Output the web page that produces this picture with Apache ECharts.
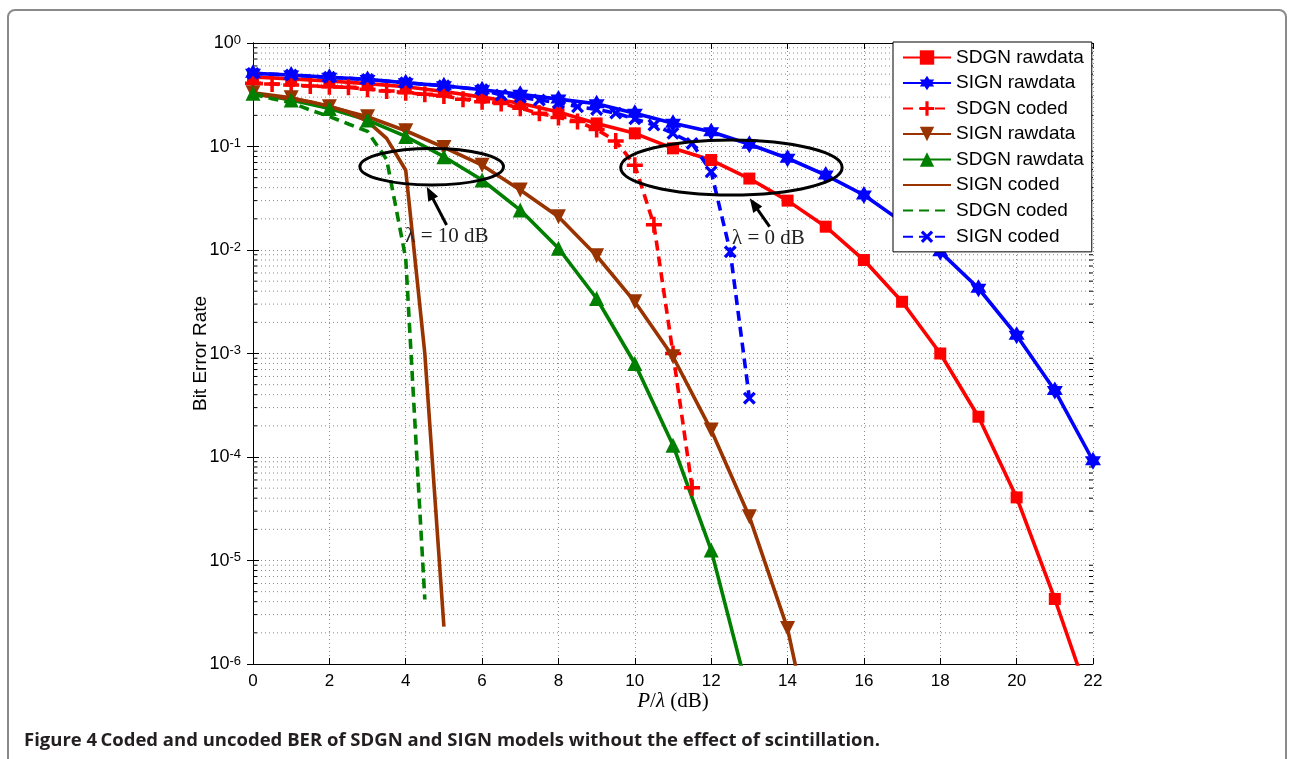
<!DOCTYPE html>
<html><head><meta charset="utf-8">
<script src="https://cdn.jsdelivr.net/npm/echarts@6/dist/echarts.min.js"></script>
<style>html,body{margin:0;padding:0;background:#fff;}#c{width:1294px;height:759px;}</style>
</head><body><div id="c"></div>
<script>
// ---------- data ----------
const xTickLabels = [0,2,4,6,8,10,12,14,16,18,20,22];
const xInt = [0,1,2,3,4,5,6,7,8,9,10,11,12,13,14,15,16,17,18,19,20,21,22];

const sdgnRawX = xInt;
const sdgnRawY = [0.47,0.45,0.43,0.405,0.378,0.34,0.30,0.262,0.215,0.167,0.134,0.096,0.074,0.049,0.030,0.0168,0.0080,0.00316,0.0010,0.000245,0.0000407,0.00000425,0.00000036];

const signRawX = xInt;
const signRawY = [0.509,0.49,0.466,0.445,0.413,0.386,0.354,0.319,0.287,0.259,0.209,0.168,0.139,0.105,0.077,0.053,0.034,0.0187,0.0096,0.00427,0.0015,0.00044,0.000092];

const sdgnCodedX = [0,0.5,1,1.5,2,2.5,3,3.5,4,4.5,5,5.5,6,6.5,7,7.5,8,8.5,9,9.5,10,10.5,11,11.5];
const sdgnCodedY = [0.408,0.402,0.393,0.384,0.378,0.373,0.357,0.344,0.331,0.319,0.308,0.286,0.271,0.261,0.234,0.209,0.191,0.174,0.146,0.113,0.066,0.0175,0.0010,0.0000505];

const signRaw10X = [0,1,2,3,4,5,6,7,8,9,10,11,12,13,14,15];
const signRaw10Y = [0.33,0.295,0.242,0.194,0.142,0.098,0.066,0.038,0.021,0.0088,0.00316,0.00093,0.000182,0.0000265,0.0000022,0.000000042];

const sdgnRaw10X = [0,1,2,3,4,5,6,7,8,9,10,11,12,13];
const sdgnRaw10Y = [0.327,0.281,0.233,0.18,0.125,0.0797,0.0475,0.0243,0.0104,0.0034,0.0008,0.00013,0.0000126,0.00000047];

const signCoded10X = [0,0.5,1,1.5,2,2.5,3,3.5,4,4.5,5];
const signCoded10Y = [0.32,0.305,0.29,0.27,0.245,0.215,0.175,0.12,0.059,0.0010,0.0000023];

const sdgnCoded10X = [0,0.5,1,1.5,2,2.5,3,3.5,4,4.5];
const sdgnCoded10Y = [0.32,0.29,0.265,0.225,0.195,0.165,0.14,0.075,0.0083,0.0000042];

const signCodedX = [0,1,2,3,4,5,6,6.5,7,7.5,8,8.5,9,9.5,10,10.5,11,11.5,12,12.5,13];
const signCodedY = [0.509,0.49,0.466,0.445,0.413,0.386,0.354,0.314,0.30,0.281,0.265,0.242,0.228,0.21,0.185,0.161,0.134,0.107,0.057,0.0096,0.00037];

const legendNames = ['SDGN rawdata','SIGN rawdata','SDGN coded','SIGN rawdata ','SDGN rawdata ','SIGN coded','SDGN coded ','SIGN coded '];

// minor log grid values
const minorVals = [];
for (let e = -6; e <= -1; e++) for (let m = 2; m <= 9; m++) minorVals.push(m * Math.pow(10, e));

// annotations, in data units
const ellipses = [
  {x: 4.68, y: 0.0638, rx: 1.88, ryDec: 0.177},
  {x: 12.53, y: 0.0627, rx: 2.90, ryDec: 0.266}
];
const arrows = [
  {tail: [5.07, 0.01745], tip: [4.55, 0.0409]},
  {tail: [13.53, 0.0168], tip: [13.01, 0.0316]}
];
const notes = [
  {x: 5.08, y: 0.0136, text: 'λ = 10 dB'},
  {x: 13.5, y: 0.0128, text: 'λ = 0 dB'}
];

// ---------- helpers ----------
const zip = (xs, ys) => xs.map((x, i) => [x, ys[i]]);
const HEX = 'path://M8.66,0L11.547,5L17.32,5L14.434,10L17.32,15L11.547,15L8.66,20L5.773,15L0,15L2.886,10L0,5L5.773,5Z';
const PLUS = 'path://M6,0h3.4v6h6v3.4h-6v6h-3.4v-6h-6v-3.4h6z';
const RED = '#ff0000', BLUE = '#0000ff', BROWN = '#993300', GREEN = '#007f00';
const LW = 3.6;
const DASH = [10, 6];

function lineSeries(name, data, color, opts) {
  return {
    type: 'line', name: name, data: data, color: color,
    lineStyle: {color: color, width: LW, type: opts.dash ? DASH : 'solid'},
    itemStyle: {color: color},
    symbol: opts.symbol || 'none', symbolSize: opts.size || 12,
    symbolRotate: opts.rotate || 0,
    showSymbol: !!opts.symbol, clip: true, silent: true, z: 3
  };
}

const chart = echarts.init(document.getElementById('c'), null, {renderer: 'canvas'});

const axisLineStyle = {show: true, lineStyle: {color: '#000', width: 1}};
const gridLine = {show: true, lineStyle: {color: '#8a8a8a', width: 1, type: [1, 3]}};

const option = {
  animation: false,
  backgroundColor: '#fff',
  grid: {left: 253, right: 201, top: 43, bottom: 95, containLabel: false},
  xAxis: [
    {type: 'value', min: 0, max: 22, interval: 2, position: 'bottom',
     axisLine: axisLineStyle, axisTick: {show: true, inside: true, length: 6, lineStyle: {color: '#000'}},
     axisLabel: {color: '#000', fontSize: 17, fontFamily: 'Liberation Sans', margin: 9,
                 formatter: v => (xTickLabels.indexOf(v) >= 0 ? String(v) : '')},
     splitLine: gridLine,
     name: '{i|P}{r|/}{i|λ}{r| (dB)}', nameLocation: 'middle', nameGap: 27, nameMoveOverlap: false,
     nameTextStyle: {rich: {
       i: {fontFamily: 'Liberation Serif', fontStyle: 'italic', fontSize: 21, color: '#000'},
       r: {fontFamily: 'Liberation Serif', fontSize: 21, color: '#000'}}}},
    {type: 'value', min: 0, max: 22, interval: 2, position: 'top',
     axisLine: axisLineStyle, axisTick: {show: true, inside: true, length: 6, lineStyle: {color: '#000'}},
     axisLabel: {show: false}, splitLine: {show: false}}
  ],
  yAxis: [
    {type: 'log', logBase: 10, min: 1e-6, max: 1, splitNumber: 6, position: 'left',
     axisLine: axisLineStyle, axisTick: {show: true, inside: true, length: 6, lineStyle: {color: '#000'}},
     axisLabel: {margin: 12, formatter: v => {
         const e = Math.round(Math.log10(v));
         return '{n|10}{s|' + (e === 0 ? '0' : '-' + (-e)) + '}';
       },
       rich: {
         n: {fontSize: 18, fontFamily: 'Liberation Sans', color: '#000', lineHeight: 19, padding: [7, 0, 0, 0], verticalAlign: 'bottom'},
         s: {fontSize: 13, fontFamily: 'Liberation Sans', color: '#000', lineHeight: 14, verticalAlign: 'top'}
       }},
     splitLine: gridLine,
     name: 'Bit Error Rate', nameLocation: 'middle', nameGap: 43, nameMoveOverlap: false,
     nameTextStyle: {fontFamily: 'Liberation Sans', fontSize: 19, color: '#000'}},
    {type: 'log', logBase: 10, min: 1e-6, max: 1, splitNumber: 6, position: 'right',
     axisLine: axisLineStyle, axisTick: {show: true, inside: true, length: 6, lineStyle: {color: '#000'}},
     axisLabel: {show: false}, splitLine: {show: false}}
  ],
  legend: {
    orient: 'vertical', left: 893, top: 42,
    backgroundColor: '#fff', borderColor: '#000', borderWidth: 1, borderRadius: 0,
    padding: [6, 8, 5, 9], itemWidth: 48, itemHeight: 18, itemGap: 6.5,
    selectedMode: false,
    textStyle: {fontFamily: 'Liberation Sans', fontSize: 19, color: '#000', lineHeight: 19},
    formatter: n => n.trim(),
    data: legendNames.map((n, i) => (i === 5 || i === 6) ? {name: n, itemStyle: {opacity: 0}} : {name: n})
  },
  series: [
    {type: 'custom', coordinateSystem: 'cartesian2d', silent: true, z: 1,
     data: minorVals.map(v => [0, v]),
     renderItem: (params, api) => {
       const v = api.value(1);
       const pL = api.coord([0, v]);
       const pR = api.coord([22, v]);
       return {type: 'group', children: [
         {type: 'line', shape: {x1: pL[0], y1: pL[1], x2: pR[0], y2: pR[1]},
          style: {stroke: '#8a8a8a', lineWidth: 1, lineDash: [1, 3]}},
         {type: 'line', shape: {x1: pL[0], y1: pL[1], x2: pL[0] + 4, y2: pL[1]}, style: {stroke: '#000', lineWidth: 1}},
         {type: 'line', shape: {x1: pR[0] - 4, y1: pR[1], x2: pR[0], y2: pR[1]}, style: {stroke: '#000', lineWidth: 1}}
       ]};
     }},
    lineSeries(legendNames[0], zip(sdgnRawX, sdgnRawY), RED, {symbol: 'rect', size: 12}),
    lineSeries(legendNames[1], zip(signRawX, signRawY), BLUE, {symbol: HEX, size: [16, 18]}),
    lineSeries(legendNames[2], zip(sdgnCodedX, sdgnCodedY), RED, {symbol: PLUS, size: 16, dash: true}),
    lineSeries(legendNames[3], zip(signRaw10X, signRaw10Y), BROWN, {symbol: 'triangle', size: 15, rotate: 180}),
    lineSeries(legendNames[4], zip(sdgnRaw10X, sdgnRaw10Y), GREEN, {symbol: 'triangle', size: 15}),
    lineSeries(legendNames[5], zip(signCoded10X, signCoded10Y), BROWN, {}),
    lineSeries(legendNames[6], zip(sdgnCoded10X, sdgnCoded10Y), GREEN, {dash: true}),
    lineSeries(legendNames[7], zip(signCodedX, signCodedY), BLUE, {symbol: PLUS, size: 15, rotate: 45, dash: true})
  ]
};
chart.setOption(option);

// ---------- annotations placed through the axes ----------
const px = p => chart.convertToPixel({xAxisIndex: 0, yAxisIndex: 0}, p);
const gfx = [];
ellipses.forEach(e => {
  const c = px([e.x, e.y]);
  const r1 = px([e.x + e.rx, e.y]);
  const r2 = px([e.x, e.y * Math.pow(10, e.ryDec)]);
  gfx.push({type: 'ellipse', z: 50, silent: true,
    shape: {cx: c[0], cy: c[1], rx: r1[0] - c[0], ry: c[1] - r2[1]},
    style: {stroke: '#000', lineWidth: 3, fill: null}});
});
arrows.forEach(a => {
  const t = px(a.tail), h = px(a.tip);
  const dx = h[0] - t[0], dy = h[1] - t[1], L = Math.hypot(dx, dy);
  const ux = dx / L, uy = dy / L, hl = 14, hw = 5.5;
  const bx = h[0] - ux * hl, by = h[1] - uy * hl;
  gfx.push({type: 'line', z: 50, silent: true, shape: {x1: t[0], y1: t[1], x2: bx + ux * 2, y2: by + uy * 2},
    style: {stroke: '#000', lineWidth: 3}});
  gfx.push({type: 'polygon', z: 50, silent: true,
    shape: {points: [[h[0], h[1]], [bx - uy * hw, by + ux * hw], [bx + uy * hw, by - ux * hw]]},
    style: {fill: '#000'}});
});
notes.forEach(n => {
  const p = px([n.x, n.y]);
  gfx.push({type: 'text', z: 50, silent: true, x: p[0], y: p[1],
    style: {text: n.text, fontFamily: 'Liberation Serif', fontSize: 21, fill: '#222', align: 'center', verticalAlign: 'middle'}});
});
// page frame and caption
gfx.push({type: 'rect', z: 0, silent: true, shape: {x: 8, y: 10, width: 1278, height: 800, r: 7},
  style: {stroke: '#8a8a8a', lineWidth: 2, fill: null}});
gfx.push({type: 'text', z: 50, silent: true, x: 24, y: 741,
  style: {text: '{b|Figure 4} {s|Coded and uncoded BER of SDGN and SIGN models without the effect of scintillation.}',
    verticalAlign: 'middle', align: 'left',
    rich: {
      b: {fontFamily: 'Open Sans', fontWeight: 'bold', fontSize: 18.5, fill: '#231f20'},
      s: {fontFamily: 'Open Sans', fontWeight: 'bold', fontSize: 18.5, fill: '#231f20'}
    }}});
chart.setOption({graphic: gfx});
</script>
</body></html>
